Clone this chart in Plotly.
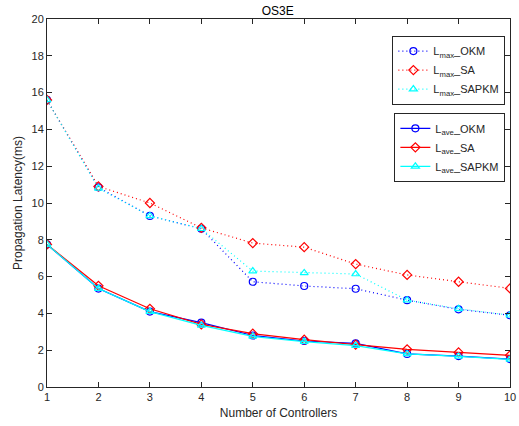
import plotly.graph_objects as go

x = [1, 2, 3, 4, 5, 6, 7, 8, 9, 10]
lmax_okm = [15.6, 10.85, 9.3, 8.6, 5.72, 5.49, 5.34, 4.72, 4.22, 3.9]
lmax_sa = [15.6, 10.9, 10.0, 8.65, 7.82, 7.6, 6.68, 6.09, 5.72, 5.36]
lmax_sapkm = [15.6, 10.8, 9.3, 8.6, 6.3, 6.2, 6.14, 4.72, 4.25, 3.9]
lave_okm = [7.75, 5.35, 4.1, 3.5, 2.8, 2.5, 2.37, 1.8, 1.68, 1.52]
lave_sa = [7.75, 5.5, 4.25, 3.4, 2.9, 2.57, 2.3, 2.05, 1.88, 1.72]
lave_sapkm = [7.75, 5.35, 4.1, 3.35, 2.75, 2.47, 2.25, 1.8, 1.66, 1.5]

names_max = ["L<sub>max</sub>_OKM", "L<sub>max</sub>_SA", "L<sub>max</sub>_SAPKM"]
names_ave = ["L<sub>ave</sub>_OKM", "L<sub>ave</sub>_SA", "L<sub>ave</sub>_SAPKM"]
colors = ["#0000ff", "#ff0000", "#00ffff"]
symbols = ["circle-open", "diamond-open", "triangle-up-open"]

fig = go.Figure()
for ys, nm, c, s in zip([lmax_okm, lmax_sa, lmax_sapkm], names_max, colors, symbols):
    fig.add_trace(go.Scatter(x=x, y=ys, name=nm, mode="lines+markers",
                             line=dict(color=c, width=1.2, dash="1px,3px"),
                             marker=dict(symbol=s, size=7, color=c, line=dict(width=1.2, color=c)),
                             legend="legend"))
for ys, nm, c, s in zip([lave_okm, lave_sa, lave_sapkm], names_ave, colors, symbols):
    fig.add_trace(go.Scatter(x=x, y=ys, name=nm, mode="lines+markers",
                             line=dict(color=c, width=1.2),
                             marker=dict(symbol=s, size=7, color=c, line=dict(width=1.2, color=c)),
                             legend="legend2"))

axis_common = dict(showline=True, linecolor="#262626", linewidth=1, mirror="ticks",
                   ticks="inside", ticklen=5, tickcolor="#262626", showgrid=False,
                   zeroline=False, automargin=False, tickfont=dict(size=11, color="#262626"))

fig.update_layout(
    width=519, height=426,
    margin=dict(l=47, r=9, t=19, b=39),
    paper_bgcolor="white", plot_bgcolor="white",
    font=dict(family="Liberation Sans, Arial, sans-serif", size=11, color="#262626"),
    title=dict(text="OS3E", x=0.535, xanchor="center", y=0.985, yanchor="top",
               font=dict(size=12, color="#000000")),
    xaxis=dict(range=[1, 10], tickvals=x, title=dict(text="Number of Controllers", standoff=6,
               font=dict(size=12)), **axis_common),
    yaxis=dict(range=[0, 20], tickvals=list(range(0, 21, 2)),
               title=dict(text="Propagation Latency(ms)", standoff=6, font=dict(size=12)),
               **axis_common),
    legend=dict(x=0.99, y=0.955, xanchor="right", yanchor="top",
                bgcolor="white", bordercolor="#262626", borderwidth=1,
                font=dict(size=11), tracegroupgap=0, itemwidth=30),
    legend2=dict(x=0.99, y=0.745, xanchor="right", yanchor="top",
                 bgcolor="white", bordercolor="#262626", borderwidth=1,
                 font=dict(size=11), tracegroupgap=0, itemwidth=30),
)

fig.write_html("out.html")
